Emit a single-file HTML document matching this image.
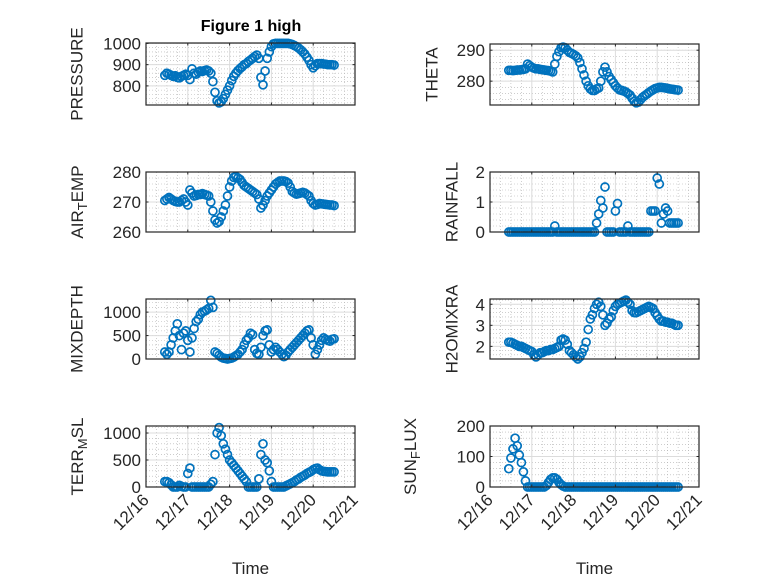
<!DOCTYPE html>
<html><head><meta charset="utf-8"><style>
html,body{margin:0;padding:0;background:#fff;}
svg{display:block;font-family:"Liberation Sans","DejaVu Sans",sans-serif;}
</style></head><body>
<svg id="fig" width="778" height="583" viewBox="0 0 778 583">
<rect width="778" height="583" fill="#fff"/>
<text x="251" y="31" text-anchor="middle" font-size="16" font-weight="bold" fill="#000">Figure 1 high</text>
</svg>
<script>
const times=[0.45,0.50,0.55,0.60,0.65,0.70,0.75,0.80,0.85,0.90,0.95,1.00,1.05,1.10,1.15,1.20,1.25,1.30,1.35,1.40,1.45,1.50,1.55,1.60,1.65,1.70,1.75,1.80,1.85,1.90,1.95,2.00,2.05,2.10,2.15,2.20,2.25,2.30,2.35,2.40,2.45,2.50,2.55,2.60,2.65,2.70,2.75,2.80,2.85,2.90,2.95,3.00,3.05,3.10,3.15,3.20,3.25,3.30,3.35,3.40,3.45,3.50,3.55,3.60,3.65,3.70,3.75,3.80,3.85,3.90,3.95,4.00,4.05,4.10,4.15,4.20,4.25,4.30,4.35,4.40,4.45,4.50];
const xTickLabels=["12/16","12/17","12/18","12/19","12/20","12/21"];
const pressure=[850,860,855,850,845,848,840,838,845,850,855,850,830,880,860,855,865,870,868,872,875,870,860,820,770,730,720,725,740,760,780,800,825,845,860,872,882,890,900,905,915,922,930,938,945,930,840,805,870,930,960,985,998,1000,1000,1000,1000,1000,1000,1000,998,995,990,985,978,970,960,950,935,920,900,885,895,905,905,905,903,902,900,900,900,898];
const theta=[283.5,283.5,283.4,283.5,283.6,283.6,283.7,283.8,284,285.5,285,284.5,284.2,284,284,283.8,283.7,283.6,283.5,283.4,283.2,283,285.5,288,289.5,290.8,291,290.8,290,289.3,289,288.6,288.2,287.5,286,284,282,280,278.5,277.5,277,277,277.5,277.8,280,283,284.5,283,281.5,280.5,279.5,278.5,277.8,277.2,277,276.8,276.5,276,275.5,274.5,273.5,273,273.2,274,274.8,275.3,275.8,276.3,276.8,277.2,277.6,277.8,278,278,277.9,277.8,277.7,277.5,277.4,277.3,277.2,277.1];
const airTemp=[270.5,271,271.5,271,270.5,270.2,270,270,270.5,271,270,269,274,273,272,272.2,272.5,272.5,272.8,272.5,272.3,272,270,267,264,263,263.5,265,267,269,272,275,277,278.2,278.5,278,277.5,276.5,275.5,275,274.5,274,273.5,273,272.5,271,268,269,270.5,272,273,274,275,276,276.5,277,277,277,276.8,276.3,275,273.5,273,272.6,272.8,273,273.2,273,272.5,272,270.5,269.5,269,269.2,269.5,269.4,269.3,269.2,269.1,269,269,268.8];
const rainfall=[0,0,0,0,0,0,0,0,0,0,0,0,0,0,0,0,0,0,0,0,0,0,0.2,0,0,0,0,0,0,0,0,0,0,0,0,0,0,0,0,0,0,0,0.3,0.6,1.05,0.8,1.5,0,0,0,0,0.7,0.95,0,0,0,0,0.2,0,0,0,0,0,0,0,0,0,0,0.7,0.7,0.7,1.8,1.6,0.3,0.6,0.8,0.7,0.3,0.3,0.3,0.3,0.3];
const mixDepth=[150,100,150,300,450,600,750,500,200,550,600,400,150,450,650,800,850,950,1000,1020,1050,1080,1250,1100,150,120,80,40,20,10,0,10,20,40,70,100,150,200,300,400,450,550,520,200,120,100,250,500,600,620,300,150,200,250,200,150,100,50,80,150,200,250,300,350,400,450,500,550,600,620,450,300,100,200,300,400,450,420,400,380,420,430];
const h2oMix=[2.2,2.2,2.15,2.1,2.05,2.0,2.0,1.95,1.9,1.85,1.8,1.75,1.6,1.5,1.6,1.7,1.7,1.75,1.8,1.8,1.85,1.85,1.9,1.95,2.0,2.3,2.35,2.3,2.1,1.8,1.7,1.6,1.5,1.4,1.5,1.7,1.9,2.2,2.8,3.3,3.5,3.8,4.0,4.1,3.9,3.5,3.0,3.1,3.3,3.4,3.7,3.9,4.0,4.05,4.1,4.15,4.2,4.1,4.0,3.7,3.6,3.6,3.65,3.7,3.75,3.8,3.85,3.9,3.85,3.8,3.6,3.45,3.3,3.2,3.2,3.15,3.15,3.1,3.1,3.05,3.0,3.0];
const terrMsl=[100,100,80,40,0,0,0,30,10,0,0,250,350,0,0,0,0,0,0,0,0,0,50,100,600,1000,1100,950,800,700,600,500,450,400,350,300,250,200,150,100,0,0,0,0,0,150,600,800,500,450,300,100,0,0,0,0,0,0,20,40,60,80,100,130,150,180,200,220,250,270,290,320,340,350,320,300,290,285,280,280,280,280];
const sunFlux=[60,95,125,160,135,105,80,50,20,0,0,0,0,0,0,0,0,0,5,15,25,30,30,25,15,8,3,0,0,0,0,0,0,0,0,0,0,0,0,0,0,0,0,0,0,0,0,0,0,0,0,0,0,0,0,0,0,0,0,0,0,0,0,0,0,0,0,0,0,0,0,0,0,0,0,0,0,0,0,0,0,0];
const pressureTicks=[800,900,1000], thetaTicks=[280,290], airTicks=[260,270,280], rainTicks=[0,1,2];
const mixTicks=[0,500,1000], h2oTicks=[2,3,4], terrTicks=[0,500,1000], sunTicks=[0,100,200];

const NS="http://www.w3.org/2000/svg";
const svg=document.getElementById('fig');
function mk(tag,attrs,parent){const e=document.createElementNS(NS,tag);for(const k in attrs)e.setAttribute(k,attrs[k]);(parent||svg).appendChild(e);return e;}

const panels=[
 {name:'pressure',label:['PRESSURE'],data:pressure,ticks:pressureTicks,ylim:[710,1002],L:146,T:43,B:105,lx:77,xl:false},
 {name:'theta',label:['THETA'],data:theta,ticks:thetaTicks,ylim:[272.3,292],L:490,T:44,B:105,lx:432,xl:false},
 {name:'air-temp',label:['AIR','T','EMP'],data:airTemp,ticks:airTicks,ylim:[260,280],L:146,T:172,B:232,lx:77,xl:false},
 {name:'rainfall',label:['RAINFALL'],data:rainfall,ticks:rainTicks,ylim:[0,2],L:490,T:172,B:232,lx:452,xl:false},
 {name:'mixdepth',label:['MIXDEPTH'],data:mixDepth,ticks:mixTicks,ylim:[0,1280],L:146,T:299,B:359,lx:77,xl:false},
 {name:'h2omixratio',label:['H2OMIXRA'],data:h2oMix,ticks:h2oTicks,ylim:[1.4,4.25],L:490,T:299,B:359,lx:452,xl:false},
 {name:'terr-msl',label:['TERR','M','SL'],data:terrMsl,ticks:terrTicks,ylim:[0,1130],L:146,T:426,B:487,lx:77,xl:true},
 {name:'sun-flux',label:['SUN','F','LUX'],data:sunFlux,ticks:sunTicks,ylim:[0,200],L:490,T:426,B:487,lx:410,xl:true}
];
const W=209;
panels.forEach(p=>{
 const g=mk('g',{});
 
 
 const R=p.L+W;
 const xs=t=>p.L+t/5*W;
 const ys=v=>p.B-(v-p.ylim[0])/(p.ylim[1]-p.ylim[0])*(p.B-p.T);
 for(let d=0;d<5;d++)for(let k=1;k<4;k++){const x=xs(d+k/4);mk('line',{x1:x,x2:x,y1:p.T,y2:p.B,stroke:'#b0b0b0','stroke-width':0.6,'stroke-dasharray':'1,2'},g);}
 const step=p.ticks[1]-p.ticks[0];
 for(let v=p.ticks[0]-step;v<=p.ylim[1];v+=step/5){if(v<=p.ylim[0]||v>=p.ylim[1])continue;const y=ys(v);mk('line',{x1:p.L,x2:R,y1:y,y2:y,stroke:'#b0b0b0','stroke-width':0.6,'stroke-dasharray':'1,2'},g);}
 for(let d=1;d<5;d++){const x=xs(d);mk('line',{x1:x,x2:x,y1:p.T,y2:p.B,stroke:'#dcdcdc','stroke-width':1},g);}
 p.ticks.forEach(v=>{const y=ys(v);mk('line',{x1:p.L,x2:R,y1:y,y2:y,stroke:'#dcdcdc','stroke-width':1},g);});
 p.data.forEach((v,i)=>{const c=mk('circle',{cx:xs(times[i]).toFixed(1),cy:ys(v).toFixed(1),r:4,fill:'none',stroke:'#0072BD','stroke-width':1.7},g);
  
  });
 mk('rect',{x:p.L,y:p.T,width:W,height:p.B-p.T,fill:'none',stroke:'#262626','stroke-width':1.2},g);
 for(let d=0;d<=5;d++){const x=xs(d);mk('line',{x1:x,x2:x,y1:p.B,y2:p.B-2.5,stroke:'#262626'},g);mk('line',{x1:x,x2:x,y1:p.T,y2:p.T+2.5,stroke:'#262626'},g);}
 p.ticks.forEach(v=>{const y=ys(v);mk('line',{x1:p.L,x2:p.L+2.5,y1:y,y2:y,stroke:'#262626'},g);mk('line',{x1:R,x2:R-2.5,y1:y,y2:y,stroke:'#262626'},g);
  const t=mk('text',{x:p.L-5,y:y+6,'text-anchor':'end','font-size':17,fill:'#262626'},g);t.textContent=String(v);
  
  });
 const cy=(p.T+p.B)/2;
 const lab=mk('text',{x:p.lx,y:cy,'text-anchor':'middle','dominant-baseline':'central','font-size':17,fill:'#262626',transform:`rotate(-90 ${p.lx} ${cy})`},g);
 
 
 if(p.label.length===1){lab.textContent=p.label[0];}
 else{const a=mk('tspan',{},lab);a.textContent=p.label[0];
  const b=mk('tspan',{dy:5,'font-size':13},lab);b.textContent=p.label[1];
  const c=mk('tspan',{dy:-5},lab);c.textContent=p.label[2];}
 if(p.xl){
  xTickLabels.forEach((s,d)=>{const x=xs(d)+4,y=p.B+14;
   const t=mk('text',{x:x,y:y,'text-anchor':'end','font-size':17,fill:'#262626',transform:`rotate(-45 ${x} ${y})`},g);t.textContent=s;
   
   });
  const tt=mk('text',{x:p.L+W/2,y:574,'text-anchor':'middle','font-size':17,fill:'#262626'},g);tt.textContent='Time';
  
  
 }
});
</script>
</body></html>
